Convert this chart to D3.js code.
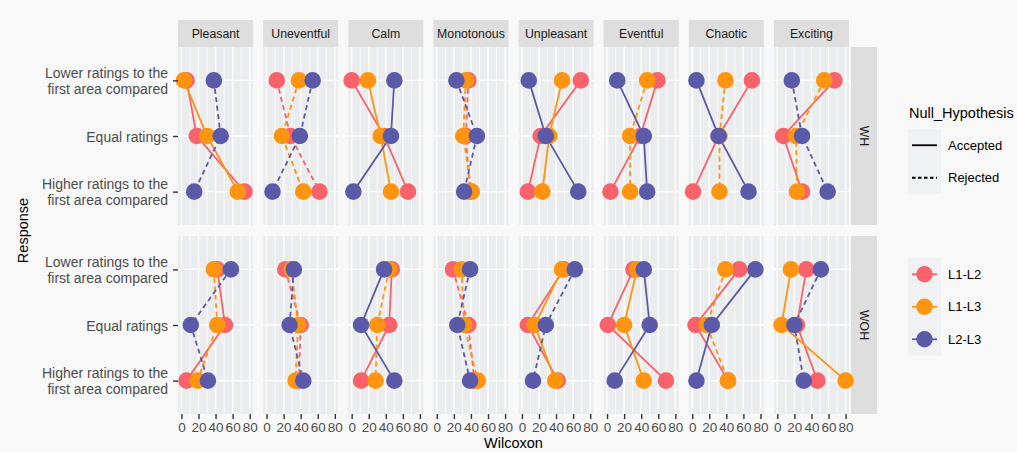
<!DOCTYPE html>
<html>
<head>
<meta charset="utf-8">
<script src="https://cdn.jsdelivr.net/npm/d3@7"></script>
<style>
  html, body { margin: 0; padding: 0; background: #f8f8f8; }
  svg { display: block; font-family: "Liberation Sans", Arial, Helvetica, sans-serif; }
</style>
</head>
<body>
<svg id="chart" width="1017" height="452"></svg>
<script>
// ---- data ---------------------------------------------------------------
const attributes = ["Pleasant", "Uneventful", "Calm", "Monotonous",
                    "Unpleasant", "Eventful", "Chaotic", "Exciting"];
const conditions = ["WH", "WOH"];
const responses = ["Lower ratings to the first area compared",
                   "Equal ratings",
                   "Higher ratings to the first area compared"];
const comparisons = ["L1-L2", "L1-L3", "L2-L3"];
const hypotheses = ["Accepted", "Rejected"];
const xTicks = [0, 20, 40, 60, 80];

// Wilcoxon statistic per attribute, listed as [lower, equal, higher]
const whL1L2 = [[6, 18, 74], [12, 28, 62], [0, 38, 66], [37, 34, 39],
                [69, 22, 7], [59, 39, 4], [70, 31, 1], [67, 7, 29]];
const whL1L3 = [[3, 30, 66], [38, 18, 43], [19, 34, 46], [34, 31, 41],
                [47, 32, 24], [47, 27, 27], [39, 32, 32], [55, 22, 23]];
const whL2L3 = [[38, 46, 15], [54, 39, 7], [50, 46, 2], [23, 47, 32],
                [8, 28, 66], [12, 43, 47], [5, 31, 66], [17, 29, 59]];

const wohL1L2 = [[42, 51, 6], [22, 40, 38], [47, 44, 11], [19, 37, 44],
                 [49, 7, 42], [31, 1, 69], [55, 4, 42], [34, 23, 47]];
const wohL1L3 = [[38, 42, 19], [29, 37, 34], [44, 30, 28], [29, 32, 48],
                 [47, 15, 39], [35, 20, 43], [39, 17, 42], [16, 5, 80]];
const wohL2L3 = [[58, 11, 31], [32, 27, 43], [38, 11, 50], [39, 24, 39],
                 [62, 28, 13], [43, 50, 9], [74, 23, 5], [51, 20, 31]];

// Null hypothesis outcome per attribute, listed as [L1-L2, L1-L3, L2-L3]
const whHypothesis = [
  ["Accepted", "Accepted", "Rejected"], ["Rejected", "Rejected", "Rejected"],
  ["Accepted", "Accepted", "Accepted"], ["Rejected", "Rejected", "Rejected"],
  ["Accepted", "Accepted", "Accepted"], ["Accepted", "Rejected", "Accepted"],
  ["Accepted", "Rejected", "Accepted"], ["Accepted", "Rejected", "Rejected"]];
const wohHypothesis = [
  ["Accepted", "Rejected", "Rejected"], ["Rejected", "Rejected", "Rejected"],
  ["Accepted", "Rejected", "Accepted"], ["Rejected", "Rejected", "Rejected"],
  ["Accepted", "Accepted", "Rejected"], ["Accepted", "Accepted", "Accepted"],
  ["Accepted", "Rejected", "Accepted"], ["Accepted", "Accepted", "Rejected"]];

// ---- long-format table built from the arrays above ----------------------
const valuesByCondition = {
  WH:  [whL1L2, whL1L3, whL2L3],
  WOH: [wohL1L2, wohL1L3, wohL2L3]
};
const hypothesisByCondition = { WH: whHypothesis, WOH: wohHypothesis };

const series = [];
conditions.forEach(cond => {
  attributes.forEach((attr, ai) => {
    comparisons.forEach((cmp, ci) => {
      series.push({
        condition: cond,
        attribute: attr,
        comparison: cmp,
        hypothesis: hypothesisByCondition[cond][ai][ci],
        points: responses.map((r, ri) => ({
          response: r,
          value: valuesByCondition[cond][ci][ai][ri]
        }))
      });
    });
  });
});

// ---- layout -------------------------------------------------------------
const svg = d3.select("#chart");
const W = 1017, H = 452;
const plotLeft = 178, plotRight = 849;
const gapX = 10;
const panelW = (plotRight - plotLeft - gapX * (attributes.length - 1)) / attributes.length;
const panelTop = 47, panelH = 178, gapY = 11;
const stripH = 27;
const rightStripX = 851, rightStripW = 26;

const colour = d3.scaleOrdinal().domain(comparisons)
  .range(["#f8636b", "#ff9410", "#5b5aa8"]);
const dash = d3.scaleOrdinal().domain(hypotheses).range(["none", "5,3.5"]);

const x = d3.scaleLinear().domain([-4, 84]).range([0, panelW]);
const y = d3.scalePoint().domain(responses).range([0, panelH]).padding(0.6);

const panelX = d3.scaleBand().domain(attributes)
  .range([plotLeft, plotRight]).paddingInner(gapX / (panelW + gapX));
const panelY = cond => panelTop + conditions.indexOf(cond) * (panelH + gapY);

const axisTextColour = "#4d4d4d";
const panelBg = "#ebeced";
const stripBg = "#dedede";

svg.append("rect").attr("width", W).attr("height", H).attr("fill", "#f8f8f8");

// ---- strips ------------------------------------------------------------
attributes.forEach(attr => {
  const g = svg.append("g").attr("transform", `translate(${panelX(attr)},${panelTop - stripH})`);
  g.append("rect").attr("width", panelW).attr("height", stripH).attr("fill", stripBg);
  g.append("text").attr("x", panelW / 2).attr("y", stripH / 2 + 4.3)
    .attr("text-anchor", "middle").attr("font-size", 12.3).attr("fill", "#1a1a1a")
    .text(attr);
});
conditions.forEach(cond => {
  const g = svg.append("g").attr("transform", `translate(${rightStripX},${panelY(cond)})`);
  g.append("rect").attr("width", rightStripW).attr("height", panelH).attr("fill", stripBg);
  g.append("text")
    .attr("transform", `translate(${rightStripW / 2 - 4.3},${panelH / 2}) rotate(90)`)
    .attr("text-anchor", "middle").attr("font-size", 12.3).attr("fill", "#1a1a1a")
    .text(cond);
});

// ---- panels --------------------------------------------------------------
const line = d3.line().x(d => x(d.value)).y(d => y(d.response));
const minorTicks = d3.range(10, 80, 20);

conditions.forEach(cond => {
  attributes.forEach(attr => {
    const g = svg.append("g")
      .attr("transform", `translate(${panelX(attr)},${panelY(cond)})`);
    g.append("rect").attr("width", panelW).attr("height", panelH).attr("fill", panelBg);

    g.selectAll(".minor").data(minorTicks).join("line")
      .attr("x1", d => x(d)).attr("x2", d => x(d))
      .attr("y1", 0).attr("y2", panelH)
      .attr("stroke", "#ffffff").attr("stroke-width", 0.7);
    g.selectAll(".major").data(xTicks).join("line")
      .attr("x1", d => x(d)).attr("x2", d => x(d))
      .attr("y1", 0).attr("y2", panelH)
      .attr("stroke", "#ffffff").attr("stroke-width", 1.4);
    g.selectAll(".hgrid").data(responses).join("line")
      .attr("x1", 0).attr("x2", panelW)
      .attr("y1", d => y(d)).attr("y2", d => y(d))
      .attr("stroke", "#ffffff").attr("stroke-width", 1.4);

    const panelSeries = series.filter(s => s.condition === cond && s.attribute === attr);

    g.selectAll(".link").data(panelSeries).join("path")
      .attr("d", s => line(s.points))
      .attr("fill", "none")
      .attr("stroke", s => colour(s.comparison))
      .attr("stroke-width", 1.8)
      .attr("stroke-dasharray", s => dash(s.hypothesis));

    panelSeries.forEach(s => {
      g.selectAll(null).data(s.points).join("circle")
        .attr("cx", d => x(d.value)).attr("cy", d => y(d.response))
        .attr("r", 8.3).attr("fill", colour(s.comparison));
    });
  });
});

// ---- axes ---------------------------------------------------------------
attributes.forEach(attr => {
  const ax = svg.append("g")
    .attr("transform", `translate(${panelX(attr)},${panelY("WOH") + panelH})`)
    .call(d3.axisBottom(x).tickValues(xTicks).tickSize(5).tickPadding(3));
  ax.select(".domain").remove();
  ax.selectAll(".tick line").attr("stroke", "#333333").attr("stroke-width", 1.4);
  ax.selectAll(".tick text").attr("font-size", 13.5).attr("fill", axisTextColour)
    .attr("font-family", "Liberation Sans, Arial, sans-serif");
});

const splitLabel = label => {
  const i = label.indexOf(" to the ");
  return i < 0 ? [label] : [label.slice(0, i + 7), label.slice(i + 8)];
};

conditions.forEach(cond => {
  const ay = svg.append("g")
    .attr("transform", `translate(${plotLeft},${panelY(cond)})`)
    .call(d3.axisLeft(y).tickSize(5).tickPadding(4));
  ay.select(".domain").remove();
  ay.selectAll(".tick line").attr("stroke", "#333333").attr("stroke-width", 1.4);
  ay.selectAll(".tick text").each(function (d) {
    const lines = splitLabel(d);
    const t = d3.select(this).text(null)
      .attr("font-size", 14).attr("fill", axisTextColour)
      .attr("font-family", "Liberation Sans, Arial, sans-serif")
      .attr("dy", null);
    const lh = 16.5;
    lines.forEach((ln, i) => {
      t.append("tspan").attr("x", -10)
        .attr("y", (i - (lines.length - 1) / 2) * lh + 5)
        .text(ln);
    });
  });
});

// axis titles
svg.append("text")
  .attr("x", (plotLeft + plotRight) / 2).attr("y", 448)
  .attr("text-anchor", "middle").attr("font-size", 14.5).attr("fill", "#000")
  .text("Wilcoxon");
svg.append("text")
  .attr("transform", `translate(28,${panelTop + panelH + gapY / 2}) rotate(-90)`)
  .attr("text-anchor", "middle").attr("font-size", 14.5).attr("fill", "#000")
  .text("Response");

// ---- legends ------------------------------------------------------------
const legendX = 908, keyW = 33, keyH = 32.5;

const lt = svg.append("g").attr("transform", `translate(${legendX},129)`);
lt.append("text").attr("x", 1).attr("y", -11).attr("font-size", 14.5).attr("fill", "#000")
  .text("Null_Hypothesis");
hypotheses.forEach((h, i) => {
  const gy = i * keyH;
  lt.append("rect").attr("y", gy).attr("width", keyW).attr("height", keyH).attr("fill", "#f0f1f2");
  lt.append("line").attr("x1", 4).attr("x2", 29).attr("y1", gy + keyH / 2).attr("y2", gy + keyH / 2)
    .attr("stroke", "#000").attr("stroke-width", 1.8).attr("stroke-dasharray", dash(h) === "none" ? null : "3.5,2.5");
  lt.append("text").attr("x", 40).attr("y", gy + keyH / 2 + 4.6)
    .attr("font-size", 13).attr("fill", "#000").text(h);
});

const lc = svg.append("g").attr("transform", `translate(${legendX},258)`);
comparisons.forEach((c, i) => {
  const gy = i * keyH;
  lc.append("rect").attr("y", gy).attr("width", keyW).attr("height", keyH).attr("fill", "#f0f1f2");
  lc.append("line").attr("x1", 4).attr("x2", 29).attr("y1", gy + keyH / 2).attr("y2", gy + keyH / 2)
    .attr("stroke", colour(c)).attr("stroke-width", 1.8);
  lc.append("circle").attr("cx", keyW / 2).attr("cy", gy + keyH / 2).attr("r", 8.3)
    .attr("fill", colour(c));
  lc.append("text").attr("x", 40).attr("y", gy + keyH / 2 + 4.6)
    .attr("font-size", 13).attr("fill", "#000").text(c);
});
</script>
</body>
</html>
